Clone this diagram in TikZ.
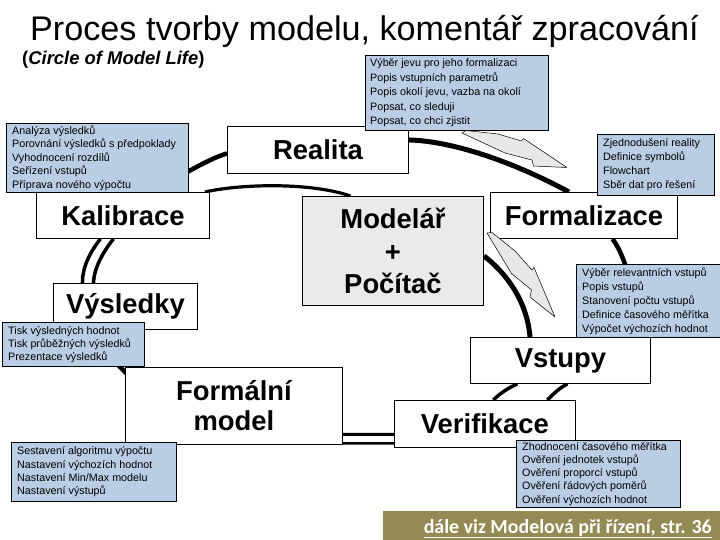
\documentclass[tikz,border=0pt]{standalone}
\usepackage{fontspec}
\setmainfont{Liberation Sans}
\newfontfamily\calibfont{Carlito}
\usetikzlibrary{calc}
\definecolor{noteblue}{RGB}{185,205,229}
\definecolor{modgray}{RGB}{234,234,234}
\definecolor{arrgray}{RGB}{232,232,232}
\definecolor{olivebar}{RGB}{148,138,84}
\pgfdeclarelayer{bg}
\pgfsetlayers{bg,main}
\begin{document}
\begin{tikzpicture}[x=1bp,y=-1bp,
 bigbox/.style={draw=black, line width=0.9bp, fill=white, inner sep=0pt, align=center, anchor=north west, font=\bfseries\fontsize{27.5}{31}\selectfont},
 notebox/.style={draw=black, line width=0.9bp, fill=noteblue, inner sep=0pt, anchor=north west},
 notetext/.style={anchor=west, inner sep=0pt, align=left, font=\fontsize{10.8}{13.5}\selectfont},
 conn/.style={draw=black, line width=4.5bp},
 garrow/.style={draw=black, line width=0.5bp, fill=arrgray, line join=round}]
\useasboundingbox (0,0) rectangle (720,540);

% titles
\node[anchor=base west, inner sep=0pt, font=\fontsize{34.3}{40}\selectfont] (title) at (30,41) {Proces tvorby modelu, komentář zpracování};
\node[anchor=base west, inner sep=0pt, font=\bfseries\fontsize{18.5}{22}\selectfont] (subtitle) at (22,65) {(\textit{Circle of Model Life})};

% main boxes
\node[bigbox, minimum width=181bp, minimum height=47bp] (real) at (227,126) {Realita};
\node[bigbox, minimum width=173bp, minimum height=46bp] (kal) at (36,192) {Kalibrace};
\node[bigbox, minimum width=144bp, minimum height=46bp] (vys) at (53,283) {Výsledky};
\node[bigbox, minimum width=217bp, minimum height=77bp, font=\bfseries\fontsize{27.5}{30}\selectfont] (form) at (125,367) {Formální\\model};
\node[bigbox, minimum width=181bp, minimum height=47bp] (ver) at (394,400) {Verifikace};
\node[bigbox, minimum width=180bp, minimum height=46bp] (vst) at (470,337) {Vstupy};
\node[bigbox, minimum width=187bp, minimum height=46bp] (fml) at (490,192) {Formalizace};
\node[bigbox, fill=modgray, minimum width=181bp, minimum height=109bp, font=\bfseries\fontsize{27.5}{33}\selectfont] (mod) at (302,196) {Modelář\\+\\Počítač};

% note boxes
\node[notebox, minimum width=183bp, minimum height=75bp] (b1) at (365,55) {};
\node[notetext, font=\fontsize{10.8}{14.5}\selectfont] (t1) at ($(b1.west)+(5,0)$) {Výběr jevu pro jeho formalizaci\\Popis vstupních parametrů\\Popis okolí jevu, vazba na okolí\\Popsat, co sleduji\\Popsat, co chci zjistit};

\node[notebox, minimum width=182bp, minimum height=69bp] (b2) at (6,123) {};
\node[notetext] (t2) at ($(b2.west)+(6,0)$) {Analýza výsledků\\Porovnání výsledků s předpoklady\\Vyhodnocení rozdílů\\Seřízení vstupů\\Příprava nového výpočtu};

\node[notebox, minimum width=117bp, minimum height=61bp] (b3) at (597,134) {};
\node[notetext, font=\fontsize{10.8}{14}\selectfont] (t3) at ($(b3.west)+(6,0)$) {Zjednodušení reality\\Definice symbolů\\Flowchart\\Sběr dat pro řešení};

\node[notebox, minimum width=144bp, minimum height=73bp] (b4) at (576,264) {};
\node[notetext, font=\fontsize{10.8}{14}\selectfont] (t4) at ($(b4.west)+(6,0)$) {Výběr relevantních vstupů\\Popis vstupů\\Stanovení počtu vstupů\\Definice časového měřítka\\Výpočet výchozích hodnot};

\node[notebox, minimum width=164bp, minimum height=67bp] (b5) at (516,440) {};
\node[notetext, font=\fontsize{10.8}{13.2}\selectfont] (t5) at ($(b5.west)+(6,0)$) {Zhodnocení časového měřítka\\Ověření jednotek vstupů\\Ověření proporcí vstupů\\Ověření řádových poměrů\\Ověření výchozích hodnot};

\node[notebox, minimum width=142bp, minimum height=44bp] (b6) at (2,322) {};
\node[notetext, font=\fontsize{10.8}{13}\selectfont] (t6) at ($(b6.west)+(6,0)$) {Tisk výsledných hodnot\\Tisk průběžných výsledků\\Prezentace výsledků};

\node[notebox, minimum width=165bp, minimum height=59bp] (b7) at (11,442) {};
\node[notetext] (t7) at ($(b7.west)+(6,0)$) {Sestavení algoritmu výpočtu\\Nastavení výchozích hodnot\\Nastavení Min/Max modelu\\Nastavení výstupů};

% banner
\node[fill=olivebar, anchor=north west, minimum width=337bp, minimum height=29bp, inner sep=0pt] (banner) at (383,511) {};
\node[anchor=base east, text=white, inner sep=0pt, font=\calibfont\bfseries\fontsize{20}{24}\selectfont] (link) at (712,533) {\underline{dále viz Modelová při řízení, str. 36}};

% connectors behind
\begin{pgfonlayer}{bg}
\fill[white] (0,0) rectangle (720,540);
% Kalibrace -> Realita
\draw[conn] ($(kal.north east)+(-59,0)$) .. controls (175,180) and (205,160) .. ($(real.west)+(0,3.5)$);
% Realita -> Formalizace
\draw[conn, line width=5bp] ($(real.east)+(0,-10)$) .. controls (450,141) and (510,160) .. ($(fml.north)+(-15,0)$);
% Formalizace -> Vstupy
\draw[conn] ($(fml.south)+(28.5,0)$) .. controls (625,255) and (640,300) .. ($(vst.north)+(65,0)$);
% Modelar -> Vstupy
\draw[conn, line width=5bp] ($(mod.east)+(0,5)$) .. controls (505,272) and (527,300) .. ($(vst.north west)+(60,0)$);
% Vstupy -> Verifikace (double)
\draw[conn, line width=3.5bp] ($(ver.north)+(8.5,0)$) .. controls (500,393) and (510,387) .. ($(vst.south)+(-43,0)$);
\draw[conn, line width=3.5bp] ($(ver.north)+(62.5,0)$) .. controls (554,393) and (561,387) .. ($(vst.south)+(7,0)$);
% Verifikace -> Formalni model (double)
\draw[conn, line width=3bp] ($(ver.west)+(0,10.5)$) -- ($(form.east)+(0,28.5)$);
\draw[conn, line width=2.5bp] ($(ver.west)+(0,19.5)$) -- ($(form.east)+(0,37.5)$);
% Formalni model -> Vysledky
\draw[conn] ($(form.north west)+(10,15)$) -- ($(b6.south east)+(-39,-14)$);
% Vysledky -> Kalibrace (double)
\draw[conn, line width=3.5bp] ($(kal.south)+(-22.5,0)$) .. controls (90,252) and (82,268) .. ($(vys.north)+(-43,0)$);
\draw[conn, line width=3.5bp] ($(kal.south)+(-9.5,0)$) .. controls (103,252) and (94,268) .. ($(vys.north)+(-32,0)$);
% Kalibrace -> Modelar
\draw[conn, line width=3.2bp] ($(kal.north east)+(-5,0)$) .. controls (240,184) and (310,182) .. ($(mod.north)+(-42.5,0)$);
\end{pgfonlayer}

% gray block arrows
\path[garrow] (462,133) -- (466,130.5) -- (498,134) -- (521.5,141) -- (523.5,138.5) -- (567,167.5) -- (533.5,166) -- (532,160) -- (505,153) -- cycle;
\path[garrow] (487,233) -- (492,232.5) -- (515,251) -- (532,270) -- (534,267.5) -- (555,317) -- (530,297) -- (531.5,290) -- (511.5,273.5) -- cycle;
\end{tikzpicture}
\end{document}
